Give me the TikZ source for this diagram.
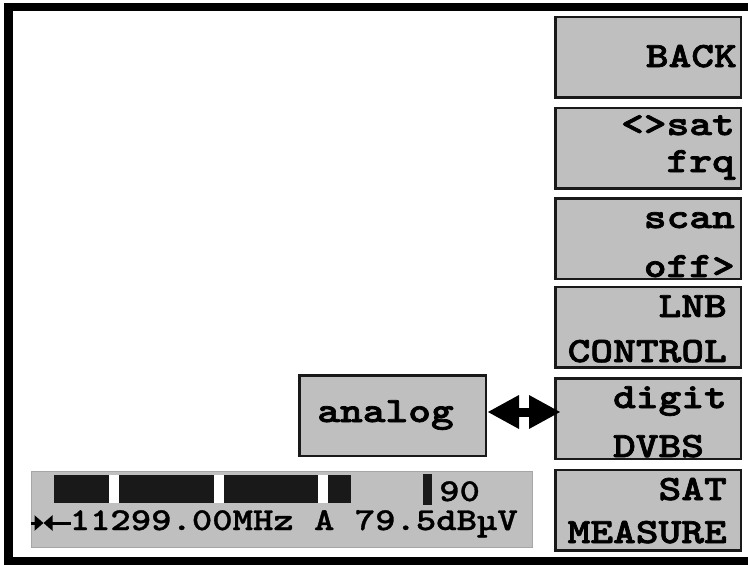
\documentclass[tikz,border=0pt]{standalone}
\usepackage{fontspec}
\newfontfamily\keyfont{lmmonolt10-bold}[Extension=.otf, FakeStretch=1.22, FakeBold=2]
\newfontfamily\statfont{lmmonolt10-bold}[Extension=.otf, FakeStretch=1.22, FakeBold=1]
\usetikzlibrary{arrows.meta}

\tikzset{
  key/.style={draw=black!90, line width=2.5pt, fill=black!25,
    minimum width=185.5pt, minimum height=80.5pt, inner sep=0pt},
  keytext/.style={anchor=base east, inner sep=0pt,
    font=\fontsize{35.5}{35.5}\selectfont\keyfont},
  stat/.style={anchor=base west, inner sep=0pt,
    font=\fontsize{31.8}{31.8}\selectfont\statfont}
}

\begin{document}
\begin{tikzpicture}
  [x=1pt,y=-1pt]
  \clip (0,0) rectangle (748,565);

  % softkeys on the right
  \foreach \n/\y in {back/57,satfrq/148,scan/238.5,lnb/327,digit/418.5,meas/510}
    \node[key] (\n) at (648,\y) {};

  \foreach \n/\x/\y/\t in {back-a/737/67/BACK, satfrq-a/735/135/<>sat,
      satfrq-b/735/172/frq, scan-a/735/228/scan, scan-b/735/277/off>,
      lnb-a/727/317/LNB, lnb-b/727/362/CONTROL, digit-a/727/408/digit,
      digit-b/704.2/457/DVBS, meas-a/727/500/SAT, meas-b/727/543/MEASURE}
    \node[keytext] (\n) at (\x,\y) {\t};

  % mode box
  \node[key, minimum width=186.5pt] (analog) at (392.5,415.5) {};
  \node[keytext, anchor=base] (analog-a) at (385.5,422) {analog};

  \coordinate (arrL) at ([xshift=1pt,yshift=3.5pt]analog.east);
  \coordinate (arrR) at ([xshift=6pt,yshift=6.5pt]digit.west);
  \draw[line width=9pt,
    {Triangle[length=31pt,width=34pt,line width=0pt]}-{Triangle[length=31pt,width=34pt,line width=0pt]}]
    (arrL) -- (arrR);

  % level / frequency panel
  \draw[fill=black!25, draw=black!35, line width=0.8pt] (31,471) rectangle (532,547);
  \fill[black!90] (54,475) rectangle (351,503);
  \foreach \x in {109,214,318}
    \fill[white] (\x,475) rectangle ++(10,28);
  \fill[black!90] (423,474) rectangle (432,505);
  \node[stat] (level) at (439,501) {90};

  \coordinate (ic1) at (31,523);
  \coordinate (ic2) at (71,523);
  \coordinate (icm) at (43.5,523);
  \draw[line width=3pt, -{Triangle[length=9pt,width=15pt]}] (ic1) -- (icm);
  \draw[line width=3pt, -{Triangle[length=9pt,width=15pt]}] (ic2) -- (icm);
  \node[stat] (freq) at (69.5,530) {11299.00MHz A 79.5dBµV};

  % screen frame
  \draw[line width=8.5pt] (770,7) -- (8.5,7) -- (8.5,561.5) -- (770,561.5);
\end{tikzpicture}
\end{document}
